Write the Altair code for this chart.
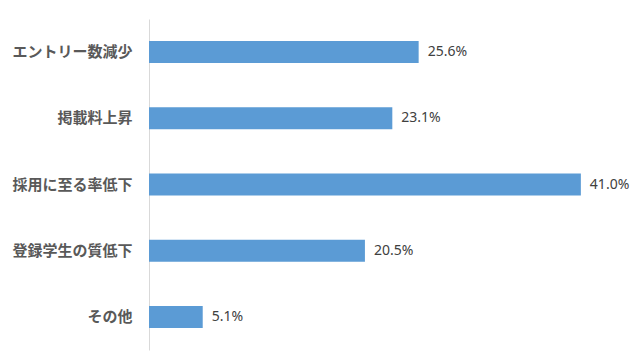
import altair as alt
import pandas as pd

categories = ["エントリー数減少", "掲載料上昇", "採用に至る率低下", "登録学生の質低下", "その他"]
values = [25.6, 23.1, 41.0, 20.5, 5.1]
labels = ["25.6%", "23.1%", "41.0%", "20.5%", "5.1%"]

df = pd.DataFrame({"cat": categories, "val": values, "label": labels})

y_enc = alt.Y("cat:N", sort=categories, title=None,
              scale=alt.Scale(paddingInner=0.667, paddingOuter=0.333),
              axis=alt.Axis(ticks=False, labelPadding=17, domainColor="#D9D9D9",
                            labelFont="Noto Sans CJK JP", labelFontWeight="bold",
                            labelFontSize=15, labelColor="#595959", grid=False))
x_enc = alt.X("val:Q", title=None, scale=alt.Scale(domain=[0, 45], nice=False),
              axis=None)

bars = alt.Chart(df).mark_bar(color="#5B9BD5").encode(y=y_enc, x=x_enc)
text = alt.Chart(df).mark_text(align="left", dx=9, font="Noto Sans", fontSize=14,
                               color="#404040").encode(y=alt.Y("cat:N", sort=categories), x="val:Q", text="label:N")

chart = (bars + text).properties(
    width=474, height=331,
    background="white",
    autosize=alt.AutoSizeParams(type="none"),
    padding={"left": 149, "top": 19, "right": 17, "bottom": 11},
).configure_view(stroke=None)

chart.save("out.html", embed_options={"renderer": "svg", "actions": False})
